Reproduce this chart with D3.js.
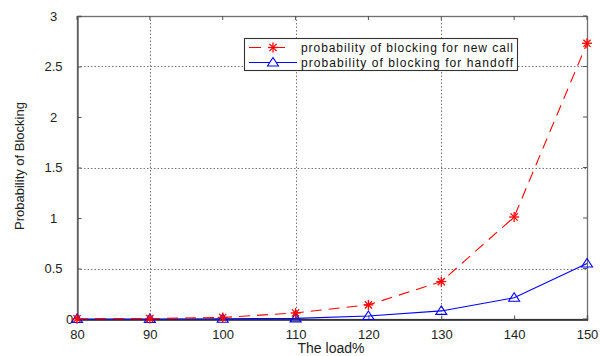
<!DOCTYPE html>
<html>
<head>
<meta charset="utf-8">
<script src="https://cdn.jsdelivr.net/npm/d3@7"></script>
<style>
  body { margin: 0; background: #fff; }
  svg { display: block; font-family: "Liberation Sans", Arial, sans-serif; }
</style>
</head>
<body>
<div id="chart"></div>
<script>
// data
const loads = [80, 90, 100, 110, 120, 130, 140, 150];
const newCall = [0.003, 0.004, 0.015, 0.06, 0.14, 0.37, 1.01, 2.73];
const handoff = [0, 0, 0.002, 0.006, 0.03, 0.08, 0.21, 0.55];
const xTicks = [80, 90, 100, 110, 120, 130, 140, 150];
const yTicks = [0, 0.5, 1, 1.5, 2, 2.5, 3];
const xGrid = [90, 110, 130];
const yGrid = [0.5, 1.5, 2.5];
const seriesNames = ["probability of blocking for new call", "probability of blocking for handoff"];

const width = 600, height = 356;
const plot = { left: 77, right: 587, top: 16, bottom: 319 };

const svg = d3.select("#chart").append("svg")
  .attr("width", width).attr("height", height);

const x = d3.scaleLinear().domain([80, 150]).range([plot.left, plot.right]);
const y = d3.scaleLinear().domain([0, 3]).range([plot.bottom, plot.top]);

// grid (only every other line shows in the original)
svg.append("g").attr("class", "grid")
  .attr("stroke", "#777").attr("stroke-width", 1).attr("stroke-dasharray", "1.5,2")
  .call(g => {
    g.selectAll("line.vx").data(xGrid).join("line").attr("class", "vx")
      .attr("x1", d => Math.round(x(d)) + 0.5).attr("x2", d => Math.round(x(d)) + 0.5)
      .attr("y1", plot.top).attr("y2", plot.bottom);
    g.selectAll("line.hy").data(yGrid).join("line").attr("class", "hy")
      .attr("y1", d => Math.round(y(d)) + 0.5).attr("y2", d => Math.round(y(d)) + 0.5)
      .attr("x1", plot.left).attr("x2", plot.right);
  });

// frame
svg.append("rect")
  .attr("x", plot.left + 0.5).attr("y", plot.top + 0.5)
  .attr("width", plot.right - plot.left).attr("height", plot.bottom - plot.top)
  .attr("fill", "none").attr("stroke", "#6f6f6f").attr("stroke-width", 1.3);

// axes: ticks pointing inward
const xAxis = d3.axisBottom(x).tickValues(xTicks).tickSize(-4).tickPadding(10).tickFormat(d3.format("d"));
const gx = svg.append("g").attr("transform", `translate(0,${plot.bottom + 0.5})`).call(xAxis);
gx.select(".domain").attr("stroke", "#222").attr("stroke-width", 1.3);
gx.selectAll(".tick line").attr("stroke", "#555");
gx.selectAll(".tick text").attr("font-size", 13).attr("fill", "#222")
  .attr("font-family", "\"Liberation Sans\", Arial, sans-serif");

const yAxis = d3.axisLeft(y).tickValues(yTicks).tickSize(-4).tickPadding(16).tickFormat(d3.format("~g"));
const gy = svg.append("g").attr("transform", `translate(${plot.left + 0.5},0)`).call(yAxis);
gy.select(".domain").attr("stroke", "#555").attr("stroke-width", 1.3);
gy.selectAll(".tick line").attr("stroke", "#555");
gy.selectAll(".tick text").attr("font-size", 13).attr("fill", "#222")
  .attr("font-family", "\"Liberation Sans\", Arial, sans-serif")
  .attr("text-anchor", "middle").attr("x", d => d === 0 ? -8 : -24);

// inward ticks on top and right
svg.append("g").attr("stroke", "#555").call(g => {
  g.selectAll("line.t").data(xTicks).join("line").attr("class", "t")
    .attr("x1", d => x(d)).attr("x2", d => x(d))
    .attr("y1", plot.top).attr("y2", plot.top + 4);
  g.selectAll("line.r").data(yTicks).join("line").attr("class", "r")
    .attr("y1", d => y(d)).attr("y2", d => y(d))
    .attr("x1", plot.right).attr("x2", plot.right - 4);
});

// axis titles
svg.append("text").text("The load%")
  .attr("x", 331).attr("y", 353).attr("text-anchor", "middle")
  .attr("font-size", 14).attr("fill", "#222");
svg.append("text").text("Probability of Blocking")
  .attr("transform", "translate(24,166) rotate(-90)").attr("text-anchor", "middle")
  .attr("font-size", 13).attr("fill", "#222");

const line = d3.line().x(d => x(d[0])).y(d => y(d[1]));
const newPts = loads.map((l, i) => [l, newCall[i]]);
const hoPts = loads.map((l, i) => [l, handoff[i]]);

function star(g, r) {
  g.append("line").attr("x1", -r).attr("x2", r).attr("y1", 0).attr("y2", 0);
  g.append("line").attr("x1", 0).attr("x2", 0).attr("y1", -r).attr("y2", r);
  g.append("line").attr("x1", -r * 0.72).attr("x2", r * 0.72).attr("y1", -r * 0.72).attr("y2", r * 0.72);
  g.append("line").attr("x1", -r * 0.72).attr("x2", r * 0.72).attr("y1", r * 0.72).attr("y2", -r * 0.72);
}
const tri = "M0,-5L5.5,3.5L-5.5,3.5Z";

// handoff series
svg.append("path").datum(hoPts).attr("d", line)
  .attr("fill", "none").attr("stroke", "#0000ff").attr("stroke-width", 1.1);
svg.append("g").selectAll("path").data(hoPts).join("path")
  .attr("d", tri).attr("transform", d => `translate(${x(d[0])},${y(d[1])})`)
  .attr("fill", "none").attr("stroke", "#0000ff").attr("stroke-width", 1.1);

// new call series
svg.append("path").datum(newPts).attr("d", line)
  .attr("fill", "none").attr("stroke", "#ff0000").attr("stroke-width", 1.1)
  .attr("stroke-dasharray", "11,7");
svg.append("g").attr("stroke", "#ff0000").attr("stroke-width", 1.3)
  .selectAll("g").data(newPts).join("g")
  .attr("transform", d => `translate(${x(d[0])},${y(d[1])})`)
  .each(function () { star(d3.select(this), 5); });

// legend
const legend = svg.append("g").attr("transform", "translate(244,38)");
legend.append("rect").attr("x", 0.5).attr("y", 0.5).attr("width", 273).attr("height", 32)
  .attr("fill", "#fff").attr("stroke", "#333").attr("stroke-width", 1.1);
const rows = legend.selectAll("g.row").data(seriesNames).join("g").attr("class", "row")
  .attr("transform", (d, i) => `translate(0,${9.5 + i * 15})`);
rows.append("line").attr("x1", 5).attr("x2", 53).attr("y1", 0).attr("y2", 0)
  .attr("stroke", (d, i) => i === 0 ? "#ff0000" : "#0000ff").attr("stroke-width", 1.1)
  .attr("stroke-dasharray", (d, i) => i === 0 ? "12,12" : null);
rows.filter((d, i) => i === 0).append("g").attr("transform", "translate(29,0)")
  .attr("stroke", "#ff0000").attr("stroke-width", 1.3).each(function () { star(d3.select(this), 5); });
rows.filter((d, i) => i === 1).append("path").attr("d", tri).attr("transform", "translate(29,0)")
  .attr("fill", "#fff").attr("stroke", "#0000ff").attr("stroke-width", 1.1);
rows.append("text").text(d => d).attr("x", 57).attr("y", 4.5)
  .attr("font-size", 12).attr("fill", "#111").attr("textLength", 212);
</script>
</body>
</html>
